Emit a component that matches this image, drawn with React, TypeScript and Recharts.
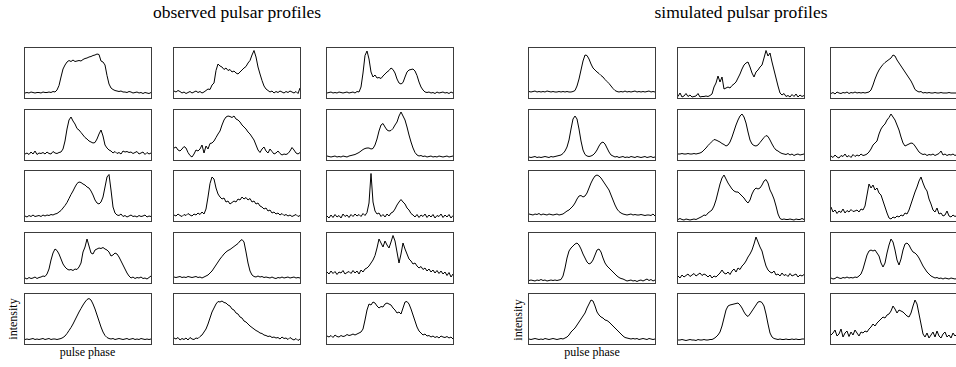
import React from "react";
import { LineChart, Line, XAxis, YAxis } from "recharts";

// ---- observed pulsar profiles (row r, column c) ----
const obsR1C1 = [10,11,10,12,11,10,11,11,10,12,11,11,12,11,13,12,16,25,42,58,66,72,75,73,76,73,74,75,74,77,79,80,82,83,85,86,88,87,74,72,66,45,28,20,17,15,14,13,14,12,12,11,13,12,10,11,12,10,11,9,11,10,9,11];
const obsR1C2 = [14,12,15,13,10,12,9,11,13,10,12,14,11,13,10,12,15,18,17,26,30,55,68,64,62,57,60,55,57,52,54,50,48,52,56,60,63,70,75,86,95,82,62,48,35,24,18,15,12,14,10,13,11,14,12,10,13,11,14,12,10,13,9,20];
const obsR1C3 = [10,11,12,10,11,10,12,11,10,11,12,10,11,12,10,13,12,22,50,85,94,78,52,42,46,40,41,39,44,48,52,55,60,57,50,38,30,28,31,42,52,56,57,58,54,45,32,22,16,12,11,12,10,11,9,12,10,11,12,10,11,9,12,10];
const obsR2C1 = [12,14,11,16,12,18,11,14,13,15,12,16,13,12,17,14,13,15,16,22,38,62,80,86,78,72,63,60,55,50,45,42,38,36,34,35,42,52,60,48,30,24,20,18,14,17,13,15,12,18,16,17,15,16,13,15,17,12,14,16,11,15,12,14];
const obsR2C2 = [24,26,20,18,22,27,24,15,9,6,12,20,18,22,30,14,28,22,33,34,38,45,52,58,70,80,86,88,87,85,88,82,80,76,70,66,62,56,52,46,40,30,20,15,22,26,18,14,22,17,12,14,18,13,10,12,11,13,18,25,20,14,12,15];
const obsR2C3 = [8,7,6,7,8,6,7,6,8,7,6,8,9,10,11,13,15,18,21,23,24,24,22,23,30,42,58,70,73,66,60,58,59,63,70,76,88,96,88,80,66,50,36,24,15,10,8,9,7,8,6,7,8,6,7,6,8,7,6,7,8,6,7,8];
const obsR3C1 = [10,8,11,9,12,9,10,11,9,12,10,12,11,13,12,14,15,18,21,26,31,37,45,53,60,68,75,78,77,74,72,68,66,60,52,42,36,34,38,48,68,88,93,62,28,16,12,11,14,9,11,8,10,12,9,10,8,11,9,10,12,8,10,9];
const obsR3C2 = [12,10,14,11,9,13,11,15,12,10,14,12,16,13,18,14,24,48,75,88,84,66,54,48,44,46,38,40,34,37,40,38,44,42,48,44,47,42,45,38,40,34,36,30,28,24,26,20,22,16,18,14,16,12,15,11,13,10,12,9,11,13,9,11];
const obsR3C3 = [10,6,12,7,13,8,11,6,14,9,12,7,13,9,14,10,13,9,15,11,17,36,95,38,20,14,16,9,13,8,14,10,16,18,24,32,38,43,38,34,26,22,15,12,8,13,7,12,9,14,7,12,8,13,6,11,9,14,7,12,8,13,6,11];
const obsR4C1 = [10,8,11,9,10,12,9,11,12,14,13,18,28,46,60,68,65,58,48,38,32,28,26,27,25,28,27,32,40,62,72,88,74,60,58,66,68,70,69,71,68,66,62,54,56,60,58,52,44,36,28,20,14,10,12,9,11,10,12,9,10,8,11,14];
const obsR4C2 = [12,11,12,13,11,12,11,13,12,11,12,13,11,12,10,12,14,16,20,24,30,36,42,48,53,58,62,65,67,70,73,76,79,84,87,82,62,40,24,16,13,12,14,12,13,11,12,11,10,12,10,9,11,10,12,10,11,12,10,11,12,10,11,10];
const obsR4C3 = [22,18,24,19,23,17,22,20,25,18,21,23,19,25,20,24,18,26,22,28,30,34,40,46,55,70,88,80,72,84,76,70,82,95,84,62,40,58,80,68,58,48,44,38,40,34,30,33,27,30,24,28,22,26,20,25,19,24,18,22,15,21,12,18];
const obsR5C1 = [9,10,9,10,11,9,10,9,10,11,9,10,11,9,10,10,9,10,11,13,16,21,27,33,40,48,56,64,71,78,84,89,91,88,80,70,58,46,34,24,17,13,11,10,11,9,10,11,10,9,10,11,9,10,11,9,10,9,11,10,9,10,9,10];
const obsR5C2 = [12,10,13,8,11,9,12,8,13,10,9,12,11,15,18,24,30,40,52,64,72,80,85,84,86,83,82,78,76,70,68,62,60,54,52,46,44,40,36,33,30,27,25,22,21,18,17,15,16,13,14,12,13,10,14,11,12,9,13,10,8,11,7,10];
const obsR5C3 = [16,14,17,13,18,15,14,17,15,16,19,17,18,20,18,20,22,24,30,48,68,80,78,84,82,76,72,75,74,80,82,80,78,72,68,62,64,60,72,84,85,80,70,58,46,34,26,22,18,20,16,17,14,16,13,15,12,16,14,13,15,12,14,10];

// ---- simulated pulsar profiles ----
const simR1C1 = [13,12,13,14,12,13,12,13,12,14,13,12,13,12,12,13,12,13,12,13,12,12,13,15,24,38,56,74,86,85,78,68,60,56,52,49,45,42,37,33,29,24,19,15,13,12,13,12,14,12,13,12,13,14,12,13,12,13,12,13,14,12,13,12];
const simR1C2 = [3,10,2,4,9,3,6,2,3,4,9,2,3,3,4,3,5,8,22,30,44,32,42,18,20,22,20,25,28,32,40,48,58,66,70,72,62,50,42,52,56,62,66,80,95,84,90,72,56,40,24,10,6,9,3,5,2,7,3,8,2,6,3,5];
const simR1C3 = [9,11,8,12,10,9,11,10,12,9,11,10,12,10,11,10,11,10,11,12,16,26,38,48,56,62,67,71,74,77,80,86,84,76,70,64,58,52,46,40,34,26,17,14,12,13,10,11,10,11,10,10,11,10,10,11,10,10,10,11,10,10,10,10];
const simR2C1 = [6,5,6,7,5,6,5,6,7,6,5,7,6,7,8,9,10,13,18,26,40,62,82,88,82,62,38,20,11,8,7,8,10,14,20,28,34,36,32,24,16,10,8,6,7,5,6,7,5,6,5,7,6,5,7,6,5,6,7,5,6,7,5,6];
const simR2C2 = [12,12,13,12,12,13,12,12,13,12,13,14,16,20,24,29,33,37,41,40,38,36,33,31,28,30,36,46,58,70,80,88,92,86,74,56,40,32,29,28,30,35,40,45,49,47,40,32,25,20,18,15,13,12,11,13,10,12,9,11,12,10,11,12];
const simR2C3 = [8,5,10,6,4,9,7,12,6,9,5,11,7,10,8,12,9,10,12,16,22,30,34,38,52,62,68,72,80,85,92,86,80,70,60,46,34,28,30,32,34,33,28,22,16,13,11,12,9,11,10,12,9,11,13,18,10,12,9,11,10,12,9,11];
const simR3C1 = [14,13,12,14,13,15,12,14,13,12,14,13,12,13,14,12,13,14,17,20,22,26,30,36,44,50,51,48,50,56,66,76,84,90,92,90,86,80,74,68,62,52,42,32,24,19,16,14,13,12,13,14,12,13,12,12,13,12,11,12,12,11,14,10];
const simR3C2 = [3,5,3,2,4,3,2,3,4,3,5,7,9,12,11,16,19,22,30,42,58,74,86,92,84,76,70,64,60,58,58,54,50,46,40,36,42,54,62,66,64,66,72,80,83,76,62,54,44,30,14,5,3,4,3,3,4,3,2,4,3,3,5,3];
const simR3C3 = [28,18,22,15,20,17,24,16,21,18,23,19,20,22,18,24,22,30,52,74,66,72,62,66,56,52,40,28,16,6,4,8,6,10,8,12,10,16,14,22,34,46,58,68,80,88,76,66,60,44,34,22,18,26,14,16,10,12,20,10,8,12,9,11];
const simR4C1 = [5,6,5,4,6,5,7,5,6,4,5,6,5,6,5,6,7,14,30,50,64,70,74,78,80,76,68,58,50,42,38,40,46,56,66,68,62,50,40,34,30,26,22,18,14,11,9,8,6,4,5,6,4,5,3,5,6,4,6,8,5,7,4,6];
const simR4C2 = [14,10,16,12,15,18,13,16,19,14,17,20,15,18,16,12,16,10,14,12,16,20,26,20,18,22,17,24,28,22,30,27,34,38,44,52,58,66,78,92,82,72,64,48,34,26,22,20,24,16,18,14,20,15,17,13,19,14,16,18,12,16,14,17];
const simR4C3 = [10,8,9,12,10,9,11,10,12,10,11,10,12,11,14,18,28,42,56,64,66,64,66,60,54,40,32,40,60,76,88,82,66,46,36,48,66,78,80,76,68,62,60,56,50,42,34,28,22,18,14,12,10,11,9,10,8,10,9,8,10,9,8,9];
const simR5C1 = [10,9,10,11,10,9,10,9,11,10,9,10,11,10,9,10,11,10,12,14,18,24,28,32,38,44,50,56,62,72,80,88,86,76,64,58,54,52,48,47,44,40,36,32,28,24,20,16,13,12,11,10,11,10,11,9,10,11,10,9,11,10,9,10];
const simR5C2 = [8,8,9,8,7,8,9,8,8,7,9,8,8,9,8,8,9,9,11,14,18,24,36,52,68,76,78,79,80,81,82,78,72,64,58,55,60,66,72,78,84,85,83,76,60,40,22,14,11,10,9,10,9,9,10,9,9,10,9,10,9,9,10,10];
const simR5C3 = [18,22,28,16,20,30,14,22,26,15,24,18,28,22,16,24,22,26,24,30,34,40,36,42,46,50,54,52,58,60,66,76,70,62,68,66,64,60,56,54,62,76,88,80,60,40,20,14,22,12,18,24,14,26,16,12,20,24,14,18,12,22,16,20];

// ---- layout groups (rows of columns) ----
const observedPanels = [
  [obsR1C1, obsR1C2, obsR1C3],
  [obsR2C1, obsR2C2, obsR2C3],
  [obsR3C1, obsR3C2, obsR3C3],
  [obsR4C1, obsR4C2, obsR4C3],
  [obsR5C1, obsR5C2, obsR5C3],
];
const simulatedPanels = [
  [simR1C1, simR1C2, simR1C3],
  [simR2C1, simR2C2, simR2C3],
  [simR3C1, simR3C2, simR3C3],
  [simR4C1, simR4C2, simR4C3],
  [simR5C1, simR5C2, simR5C3],
];

const groupTitles = ["observed pulsar profiles", "simulated pulsar profiles"];
const xLabel = "pulse phase";
const yLabel = "intensity";

const ROW_TOPS = [47, 108.5, 170, 231.5, 293];
const LEFT_COLS = [24, 173, 326];
const RIGHT_COLS = [528, 677, 830];
const PW = 128;
const PH = 52;
const FONT = "'Liberation Serif', 'Times New Roman', serif";

function Panel({ values, left, top }: { values: number[]; left: number; top: number }) {
  const data = values.map((v, i) => ({ x: i, y: v }));
  return (
    <div
      style={{
        position: "absolute",
        left,
        top,
        width: PW,
        height: PH,
        border: "1px solid #3c3c3c",
        boxSizing: "border-box",
        background: "#fff",
      }}
    >
      <LineChart width={PW - 2} height={PH - 2} data={data} margin={{ top: 0, right: 0, bottom: 0, left: 0 }}>
        <XAxis dataKey="x" type="number" domain={[0, values.length - 1]} hide />
        <YAxis type="number" domain={[0, 100]} hide />
        <Line
          type="linear"
          dataKey="y"
          stroke="#000"
          strokeWidth={1}
          dot={false}
          isAnimationActive={false}
        />
      </LineChart>
    </div>
  );
}

export default function App() {
  const groups = [
    { panels: observedPanels, cols: LEFT_COLS },
    { panels: simulatedPanels, cols: RIGHT_COLS },
  ];
  return (
    <div
      style={{
        position: "absolute",
        left: 0,
        top: 0,
        width: 956,
        height: 367,
        background: "#fff",
        overflow: "hidden",
      }}
    >
      {groups.map((g, gi) =>
        g.panels.map((row, ri) =>
          row.map((vals, ci) => (
            <Panel key={`${gi}-${ri}-${ci}`} values={vals} left={g.cols[ci]} top={ROW_TOPS[ri]} />
          ))
        )
      )}
      <svg width={956} height={367} style={{ position: "absolute", left: 0, top: 0, pointerEvents: "none" }}>
        <text x={237} y={18} textAnchor="middle" fontFamily={FONT} fontSize={17.5} fill="#000">
          {groupTitles[0]}
        </text>
        <text x={741} y={18} textAnchor="middle" fontFamily={FONT} fontSize={17.5} fill="#000">
          {groupTitles[1]}
        </text>
        <text x={87.5} y={356} textAnchor="middle" fontFamily={FONT} fontSize={12} fill="#000">
          {xLabel}
        </text>
        <text x={592} y={356} textAnchor="middle" fontFamily={FONT} fontSize={12} fill="#000">
          {xLabel}
        </text>
        <text
          x={0}
          y={0}
          textAnchor="middle"
          fontFamily={FONT}
          fontSize={12}
          fill="#000"
          transform="translate(17,319) rotate(-90)"
        >
          {yLabel}
        </text>
        <text
          x={0}
          y={0}
          textAnchor="middle"
          fontFamily={FONT}
          fontSize={12}
          fill="#000"
          transform="translate(522,320) rotate(-90)"
        >
          {yLabel}
        </text>
      </svg>
    </div>
  );
}
